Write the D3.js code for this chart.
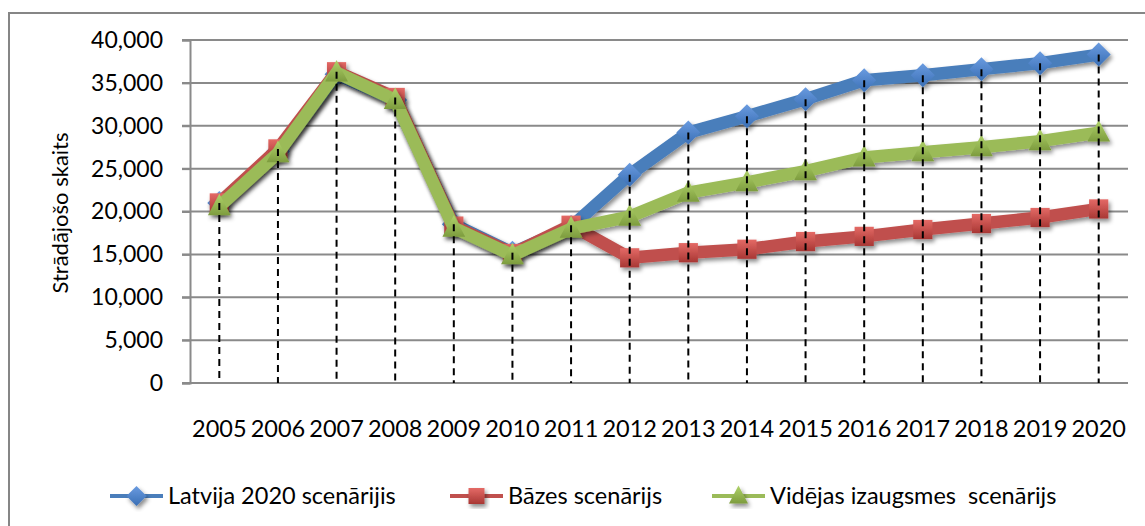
<!DOCTYPE html>
<html>
<head>
<meta charset="utf-8">
<script src="https://cdn.jsdelivr.net/npm/d3@7"></script>
<style>
  body { margin: 0; background: #fff; }
  svg { display: block; font-family: Lato, "Open Sans", sans-serif; }
</style>
</head>
<body>
<div id="chart"></div>
<script>
var years = ["2005","2006","2007","2008","2009","2010","2011","2012","2013","2014","2015","2016","2017","2018","2019","2020"];
var latvija2020 = [21000, 27000, 36000, 33000, 18500, 15200, 18200, 24300, 29200, 31100, 33100, 35300, 35900, 36600, 37300, 38300];
var bazes = [21000, 27300, 36300, 33300, 18300, 15100, 18400, 14600, 15200, 15600, 16500, 17100, 17900, 18600, 19300, 20300];
var videjas = [20600, 26800, 36200, 33000, 18100, 14900, 18000, 19400, 22200, 23400, 24700, 26300, 26900, 27500, 28200, 29200];
var seriesNames = ["Latvija 2020 scenārijis", "Bāzes scenārijs", "Vidējas izaugsmes  scenārijs"];
var yTicks = [0, 5000, 10000, 15000, 20000, 25000, 30000, 35000, 40000];

var W = 1145, H = 526;
var svg = d3.select("#chart").append("svg").attr("width", W).attr("height", H);

var defs = svg.append("defs");
var f = defs.append("filter").attr("id", "shadow").attr("x", "-30%").attr("y", "-30%").attr("width", "160%").attr("height", "160%");
f.append("feDropShadow").attr("dx", 2).attr("dy", 3).attr("stdDeviation", 2).attr("flood-color", "#000").attr("flood-opacity", 0.45);

function grad(id, c1, c2) {
  var g = defs.append("linearGradient").attr("id", id).attr("x1", 0).attr("y1", 0).attr("x2", 0).attr("y2", 1);
  g.append("stop").attr("offset", "0%").attr("stop-color", c1);
  g.append("stop").attr("offset", "100%").attr("stop-color", c2);
}
grad("gBlue", "#6a9be0", "#3a6fb5");
grad("gRed", "#e46a66", "#a83734");
grad("gGreen", "#b0d36a", "#7d9c3e");

// outer border
svg.append("rect").attr("x", 9).attr("y", 13).attr("width", 1300).attr("height", 700)
  .attr("fill", "none").attr("stroke", "#868686").attr("stroke-width", 2);

var plotL = 190, plotR = 1128, plotT = 40, plotB = 383;
var x = d3.scaleBand().domain(years).range([plotL, plotR]);
var cx = function(d) { return x(d) + x.bandwidth() / 2; };
var y = d3.scaleLinear().domain([0, 40000]).range([plotB, plotT]);

// gridlines
svg.append("g").selectAll("line").data(yTicks).join("line")
  .attr("x1", plotL - 8).attr("x2", plotR)
  .attr("y1", function(d) { return y(d); }).attr("y2", function(d) { return y(d); })
  .attr("stroke", "#8a8a8a").attr("stroke-width", 2);

// y axis
var yAxis = svg.append("g").attr("transform", "translate(" + plotL + ",0)")
  .call(d3.axisLeft(y).tickValues(yTicks).tickFormat(d3.format(",")).tickSize(8).tickPadding(19));
yAxis.select(".domain").attr("stroke", "#8a8a8a").attr("stroke-width", 2);
yAxis.selectAll(".tick line").attr("stroke", "#8a8a8a").attr("stroke-width", 2);
yAxis.selectAll("text").attr("font-size", 23).attr("fill", "#000").attr("font-family", "Lato");

// x axis labels
var xAxis = svg.append("g").attr("transform", "translate(0," + plotB + ")")
  .call(d3.axisBottom(x).tickSize(0).tickPadding(37));
xAxis.select(".domain").remove();
xAxis.selectAll("text").attr("font-size", 23.5).attr("fill", "#000").attr("font-family", "Lato");

// y title
svg.append("text").attr("transform", "translate(68," + 213 + ") rotate(-90)")
  .attr("text-anchor", "middle").attr("font-size", 22).text("Strādājošo skaits");

var series = [
  { name: seriesNames[0], values: latvija2020, color: "#4a7ebb", fill: "url(#gBlue)", shape: "diamond" },
  { name: seriesNames[1], values: bazes, color: "#c0504d", fill: "url(#gRed)", shape: "square" },
  { name: seriesNames[2], values: videjas, color: "#9bbb59", fill: "url(#gGreen)", shape: "triangle" }
];

function marker(sel, shape, s) {
  if (shape === "diamond") {
    sel.append("path").attr("d", "M0," + (-s) + "L" + s + ",0L0," + s + "L" + (-s) + ",0Z");
  } else if (shape === "square") {
    sel.append("rect").attr("x", -s * 0.8).attr("y", -s * 0.8).attr("width", s * 1.6).attr("height", s * 1.6);
  } else {
    sel.append("path").attr("d", "M0," + (-s * 1.05) + "L" + (s * 0.95) + "," + (s * 0.75) + "L" + (-s * 0.95) + "," + (s * 0.75) + "Z");
  }
}

var line = d3.line()
  .x(function(d, i) { return cx(years[i]); })
  .y(function(d) { return y(d); });

series.forEach(function(s) {
  var g = svg.append("g").attr("filter", "url(#shadow)");
  g.append("path").datum(s.values).attr("d", line)
    .attr("fill", "none").attr("stroke", s.color).attr("stroke-width", 12.5)
    .attr("stroke-linejoin", "round");
  g.selectAll("g.m").data(s.values).join("g").attr("class", "m")
    .attr("transform", function(d, i) { return "translate(" + cx(years[i]) + "," + y(d) + ")"; })
    .each(function() { marker(d3.select(this), s.shape, 12); })
    .selectAll("path,rect").attr("fill", s.fill);
});

// drop lines
svg.append("g").selectAll("line").data(years).join("line")
  .attr("x1", cx).attr("x2", cx)
  .attr("y1", function(d, i) { return y(Math.max(latvija2020[i], bazes[i], videjas[i])); })
  .attr("y2", plotB)
  .attr("stroke", "#000").attr("stroke-width", 2).attr("stroke-dasharray", "7,5");

// legend
var legX = [110, 450, 712];
var leg = svg.append("g").selectAll("g").data(series).join("g")
  .attr("transform", function(d, i) { return "translate(" + legX[i] + ",496)"; });
leg.append("line").attr("x1", 0).attr("x2", 53).attr("stroke", function(d) { return d.color; }).attr("stroke-width", 4);
leg.append("g").attr("transform", "translate(26.5,0)").attr("filter", "url(#shadow)")
  .each(function(d) { marker(d3.select(this), d.shape, 10); })
  .selectAll("path,rect").attr("fill", function() { return d3.select(this.parentNode).datum().fill; });
leg.append("text").attr("x", 58).attr("dy", "0.35em").attr("font-size", 23.5).text(function(d) { return d.name; })
  .style("white-space", "pre");
</script>
</body>
</html>
